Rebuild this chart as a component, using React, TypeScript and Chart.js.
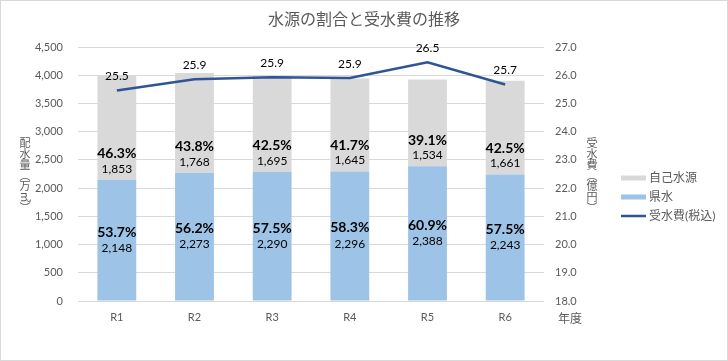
import React, { useEffect, useRef } from "react";
import { Chart, registerables } from "chart.js";

Chart.register(...registerables);

const categories = ["R1", "R2", "R3", "R4", "R5", "R6"];
const prefWater = [2148, 2273, 2290, 2296, 2388, 2243];
const ownWater = [1853, 1768, 1695, 1645, 1534, 1661];
const prefPct = ["53.7%", "56.2%", "57.5%", "58.3%", "60.9%", "57.5%"];
const ownPct = ["46.3%", "43.8%", "42.5%", "41.7%", "39.1%", "42.5%"];
const cost = [25.46, 25.86, 25.93, 25.9, 26.46, 25.67];

const FONT = "Lato, 'Noto Sans CJK JP', sans-serif";
const GRAY_TXT = "#595959";

const fmt = (v: number) => v.toLocaleString("en-US");

function drawVertical(ctx: CanvasRenderingContext2D, chars: string[], x: number, y0: number, step: number) {
  let y = y0;
  for (const ch of chars) {
    if (ch === "㎥") {
      ctx.save();
      ctx.translate(x, y);
      ctx.rotate(Math.PI / 2);
      ctx.fillText(ch, 0, 0);
      ctx.restore();
    } else {
      ctx.fillText(ch, x, y);
    }
    y += step;
  }
}

const customPlugin = {
  id: "custom",
  afterDraw(chart: any) {
    const ctx: CanvasRenderingContext2D = chart.ctx;
    const W = chart.width, H = chart.height;
    ctx.save();
    // border
    ctx.strokeStyle = "#d9d9d9";
    ctx.lineWidth = 1;
    ctx.strokeRect(0.5, 0.5, W - 1, H - 1);
    // title
    ctx.fillStyle = GRAY_TXT;
    ctx.font = `16px ${FONT}`;
    ctx.textAlign = "center";
    ctx.textBaseline = "middle";
    ctx.fillText("水源の割合と受水費の推移", 364, 20);
    // axis titles
    ctx.font = `11px 'Noto Sans CJK JP', sans-serif`;
    drawVertical(ctx, ["配", "水", "量", "︵", "万", "㎥", "︶"], 25, 143, 10.8);
    drawVertical(ctx, ["受", "水", "費", "︵", "億", "円", "︶"], 592, 143, 10.8);
    // 年度
    ctx.font = `12px ${FONT}`;
    ctx.textAlign = "left";
    ctx.fillText("年度", 558, 319);
    // legend
    const leg = [
      { label: "自己水源", color: "#d9d9d9", h: 5, y: 178 },
      { label: "県水", color: "#9dc3e6", h: 5, y: 197 },
      { label: "受水費(税込)", color: "#2f5597", h: 2.5, y: 216 },
    ];
    ctx.font = `12px ${FONT}`;
    for (const l of leg) {
      ctx.fillStyle = l.color;
      ctx.fillRect(621, l.y - l.h / 2, 25, l.h);
      ctx.fillStyle = GRAY_TXT;
      ctx.fillText(l.label, 649, l.y);
    }
    // bar labels
    const metaPref = chart.getDatasetMeta(0);
    const metaOwn = chart.getDatasetMeta(1);
    ctx.textAlign = "center";
    ctx.fillStyle = "#000";
    metaPref.data.forEach((bar: any, i: number) => {
      const cy = (bar.y + bar.base) / 2;
      ctx.font = `bold 14px ${FONT}`;
      ctx.fillText(prefPct[i], bar.x, cy - 8);
      ctx.font = `12px ${FONT}`;
      ctx.fillText(fmt(prefWater[i]), bar.x, cy + 8);
    });
    metaOwn.data.forEach((bar: any, i: number) => {
      const bottom = bar.base;
      ctx.font = `bold 14px ${FONT}`;
      ctx.fillText(ownPct[i], bar.x, bottom - 26);
      ctx.font = `12px ${FONT}`;
      ctx.fillText(fmt(ownWater[i]), bar.x, bottom - 11);
    });
    // line labels
    const metaLine = chart.getDatasetMeta(2);
    ctx.font = `12px ${FONT}`;
    metaLine.data.forEach((pt: any, i: number) => {
      ctx.fillText(cost[i].toFixed(1), pt.x, pt.y - 14);
    });
    ctx.restore();
  },
};

export default function App() {
  const ref = useRef<HTMLCanvasElement | null>(null);
  useEffect(() => {
    if (!ref.current) return;
    const chart = new Chart(ref.current, {
      type: "bar",
      data: {
        labels: categories,
        datasets: [
          {
            type: "bar",
            label: "県水",
            data: prefWater,
            backgroundColor: "#9dc3e6",
            yAxisID: "y",
            stack: "s",
            order: 2,
            categoryPercentage: 1,
            barPercentage: 0.5,
          },
          {
            type: "bar",
            label: "自己水源",
            data: ownWater,
            backgroundColor: "#d9d9d9",
            yAxisID: "y",
            stack: "s",
            order: 2,
            categoryPercentage: 1,
            barPercentage: 0.5,
          },
          {
            type: "line",
            label: "受水費(税込)",
            data: cost,
            borderColor: "#2f5597",
            borderWidth: 2.5,
            pointRadius: 0,
            yAxisID: "y1",
            order: 1,
            tension: 0,
          } as any,
        ],
      },
      options: {
        animation: false,
        responsive: false,
        maintainAspectRatio: false,
        layout: { padding: { top: 47, bottom: 0, left: 0, right: 0 } },
        plugins: { legend: { display: false }, title: { display: false }, tooltip: { enabled: false } },
        scales: {
          x: {
            stacked: true,
            grid: { display: false, drawTicks: false },
            border: { display: false },
            ticks: { color: GRAY_TXT, font: { family: FONT, size: 11 }, padding: 10 },
            afterFit: (s: any) => { s.height = 60; },
          },
          y: {
            stacked: true,
            position: "left",
            min: 0,
            max: 4500,
            grid: { color: "#d9d9d9", drawTicks: false },
            border: { display: false },
            ticks: {
              stepSize: 500,
              color: GRAY_TXT,
              font: { family: FONT, size: 11 },
              padding: 15,
              callback: (v: any) => fmt(Number(v)),
            },
            afterFit: (s: any) => { s.width = 78; },
          },
          y1: {
            position: "right",
            min: 18,
            max: 27,
            grid: { display: false, drawTicks: false },
            border: { display: false },
            ticks: {
              stepSize: 1,
              color: GRAY_TXT,
              font: { family: FONT, size: 11 },
              padding: 11,
              callback: (v: any) => Number(v).toFixed(1),
            },
            afterFit: (s: any) => { s.width = 184; },
          },
        },
      },
      plugins: [customPlugin],
    });
    return () => chart.destroy();
  }, []);
  return (
    <div style={{ position: "fixed", left: 0, top: 0, width: 728, height: 361, background: "#fff" }}>
      <canvas ref={ref} width={728} height={361} style={{ width: 728, height: 361, display: "block" }} />
    </div>
  );
}
